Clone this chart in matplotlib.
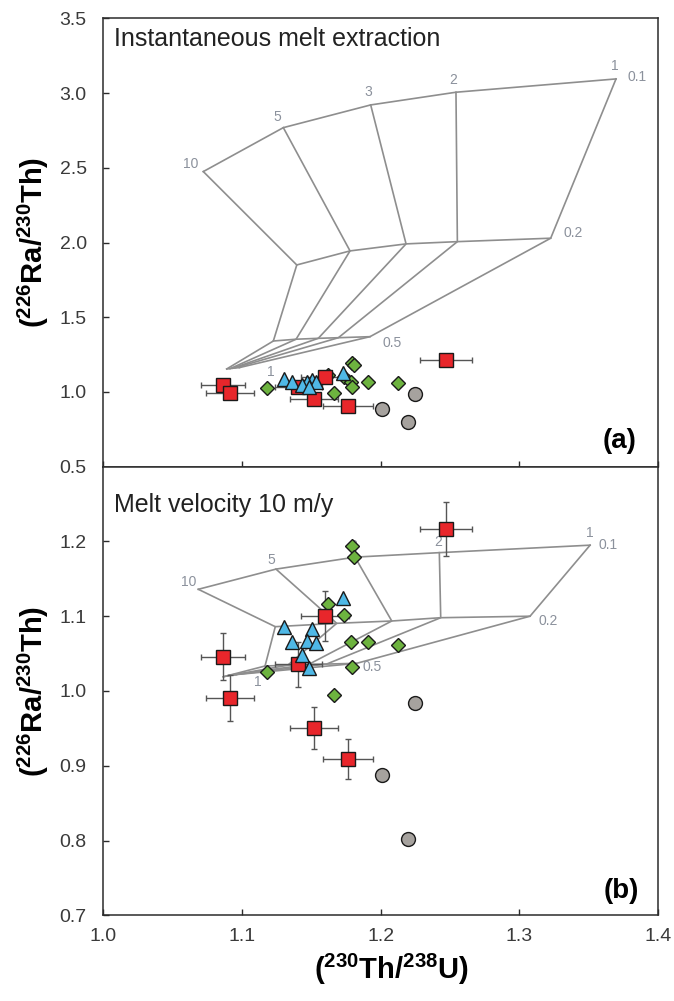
import matplotlib
matplotlib.use('Agg')
import matplotlib.pyplot as plt
import numpy as np

plt.rcParams['font.family'] = ['Liberation Sans', 'DejaVu Sans']
plt.rcParams['mathtext.fontset'] = 'custom'
plt.rcParams['mathtext.rm'] = 'Liberation Sans'
plt.rcParams['mathtext.bf'] = 'Liberation Sans:bold'

# model grid: columns labelled 10, 5, 3, 2, 1 ; rows labelled 0.1, 0.2, 0.5, 1
COL_LABELS = ['10', '5', '3', '2', '1']
ROW_LABELS = ['0.1', '0.2', '0.5', '1']

# instantaneous melt extraction model
inst_th = [[1.0721, 1.1298, 1.1928, 1.2543, 1.3697],
           [1.1395, 1.1779, 1.2183, 1.2553, 1.3226],
           [1.1226, 1.1390, 1.1550, 1.1695, 1.1923],
           [1.0890, 1.0914, 1.0933, 1.0950, 1.0981]]
inst_ra = [[2.475, 2.769, 2.921, 3.006, 3.095],
           [1.850, 1.944, 1.991, 2.006, 2.029],
           [1.341, 1.353, 1.359, 1.363, 1.370],
           [1.154, 1.156, 1.159, 1.161, 1.163]]

# melt velocity 10 m/y model
vel_th = [[1.0685, 1.1245, 1.1815, 1.2423, 1.3510],
          [1.1240, 1.1683, 1.2080, 1.2433, 1.3077],
          [1.1166, 1.1330, 1.1480, 1.1610, 1.1827],
          [1.0865, 1.0890, 1.0910, 1.0930, 1.0960]]
vel_ra = [[1.136, 1.163, 1.179, 1.185, 1.195],
          [1.086, 1.0905, 1.0936, 1.098, 1.100],
          [1.0334, 1.0345, 1.0355, 1.036, 1.037],
          [1.019, 1.020, 1.021, 1.0215, 1.022]]

# samples
sq_th = [1.2471, 1.1599, 1.0861, 1.1406, 1.0914, 1.1519, 1.1762]
sq_ra = [1.2167, 1.1003, 1.0459, 1.0357, 0.9902, 0.9501, 0.9090]
sq_th_err = [0.019, 0.017, 0.016, 0.017, 0.017, 0.017, 0.018]
sq_ra_err = [0.036, 0.033, 0.031, 0.030, 0.031, 0.028, 0.027]

di_th = [1.1791, 1.1808, 1.1618, 1.1736, 1.1786, 1.1907, 1.2127, 1.1791, 1.1178, 1.1666]
di_ra = [1.1939, 1.1788, 1.1163, 1.1016, 1.0651, 1.0659, 1.0615, 1.0325, 1.0258, 0.9946]

tr_th = [1.1731, 1.1305, 1.1507, 1.1358, 1.1467, 1.1532, 1.1431, 1.1486]
tr_ra = [1.1240, 1.0852, 1.0825, 1.0651, 1.0669, 1.0638, 1.0481, 1.0304]

ci_th = [1.2248, 1.2012, 1.2195]
ci_ra = [0.9843, 0.8876, 0.8016]

GRID_COLOR = '#8e8e8e'
LABEL_COLOR = '#8b919c'


def DrawGrid(ax, th, ra, offsets):
    th = np.array(th)
    ra = np.array(ra)
    for i in range(th.shape[0]):
        ax.plot(th[i], ra[i], color=GRID_COLOR, lw=1.2, zorder=1)
    for j in range(th.shape[1]):
        ax.plot(th[:, j], ra[:, j], color=GRID_COLOR, lw=1.2, zorder=1)
    # column labels along the first row, row labels at the right end
    for j, lab in enumerate(COL_LABELS):
        if lab in offsets:
            ax.annotate(lab, (th[0, j], ra[0, j]), xytext=offsets[lab],
                        textcoords='offset points', ha='center', va='center',
                        fontsize=10, color=LABEL_COLOR, zorder=1)
    for i, lab in enumerate(ROW_LABELS):
        key = 'r' + lab
        if key in offsets:
            k = 0 if lab == '1' else -1
            ax.annotate(lab, (th[i, k], ra[i, k]), xytext=offsets[key],
                        textcoords='offset points', ha='center', va='center',
                        fontsize=10, color=LABEL_COLOR, zorder=1)


def DrawSamples(ax, yerr=True):
    ax.errorbar(sq_th, sq_ra, xerr=sq_th_err, yerr=sq_ra_err if yerr else None,
                fmt='none', ecolor='#555555', elinewidth=1, capsize=2.5,
                capthick=1, zorder=2)
    ax.plot(di_th, di_ra, 'D', ms=7, mfc='#6db33f', mec='#1a1a1a', mew=1, zorder=3)
    ax.plot(sq_th, sq_ra, 's', ms=10.5, mfc='#e8262b', mec='#1a1a1a', mew=1, zorder=4)
    ax.plot(tr_th, tr_ra, '^', ms=10, mfc='#4fb8e6', mec='#1a1a1a', mew=1, zorder=5)
    ax.plot(ci_th, ci_ra, 'o', ms=10, mfc='#a6a29e', mec='#1a1a1a', mew=1, zorder=5)


def Style(ax):
    for s in ax.spines.values():
        s.set_color('#2b2b2b')
        s.set_linewidth(1.1)
    ax.tick_params(direction='in', length=4, width=1, color='#2b2b2b',
                   labelsize=14, labelcolor='#3a3a3a', top=False, right=False)
    ax.tick_params(axis='y', pad=12)
    ax.set_xlim(1.0, 1.4)
    ax.set_xticks([1.0, 1.1, 1.2, 1.3, 1.4])


fig = plt.figure(figsize=(6.74, 10.01), dpi=100)
left, width = 0.1533, 0.823
ax1 = fig.add_axes([left, 0.5338, width, 0.4478])
ax2 = fig.add_axes([left, 0.0856, width, 0.4482])

ylab = r'$\mathbf{(^{226}Ra/^{230}Th)}$'
xlab = r'$\mathbf{(^{230}Th/^{238}U)}$'

# (a) instantaneous melt extraction
Style(ax1)
DrawGrid(ax1, inst_th, inst_ra,
         {'10': (-9, 5.5), '5': (-4, 7.5), '3': (-2, 9), '2': (-2, 9),
          '1': (-1, 9), 'r0.1': (15, 1.5), 'r0.2': (16, 4), 'r0.5': (16, -4.5),
          'r1': (32, -2)})
DrawSamples(ax1, yerr=False)
ax1.set_ylim(0.5, 3.5)
ax1.set_yticks(np.arange(0.5, 3.51, 0.5))
ax1.yaxis.set_major_formatter(matplotlib.ticker.FormatStrFormatter('%.1f'))
ax1.tick_params(axis='x', labelbottom=False)
ax1.text(0.019, 0.955, 'Instantaneous melt extraction', transform=ax1.transAxes,
         fontsize=18, va='center', ha='left', color='#222222')
ax1.text(0.93, 0.058, '(a)', transform=ax1.transAxes, fontsize=20,
         fontweight='bold', ha='center', va='center')
ax1.set_ylabel(ylab, fontsize=21, labelpad=6)

# (b) melt velocity 10 m/y
Style(ax2)
DrawGrid(ax2, vel_th, vel_ra,
         {'10': (-7, 5), '5': (-3.5, 6.5), '3': (-1, 8), '2': (-1, 8),
          '1': (0, 8.5), 'r0.1': (13, 0), 'r0.2': (13, -3.5), 'r0.5': (11, -2.5),
          'r1': (25, -3.5)})
DrawSamples(ax2)
ax2.set_ylim(0.7, 1.3)
ax2.set_yticks(np.arange(0.7, 1.21, 0.1))
ax2.yaxis.set_major_formatter(matplotlib.ticker.FormatStrFormatter('%.1f'))
ax2.xaxis.set_major_formatter(matplotlib.ticker.FormatStrFormatter('%.1f'))
ax2.tick_params(axis='x', pad=9)
ax2.text(0.019, 0.915, 'Melt velocity 10 m/y', transform=ax2.transAxes,
         fontsize=18, va='center', ha='left', color='#222222')
ax2.text(0.933, 0.055, '(b)', transform=ax2.transAxes, fontsize=20,
         fontweight='bold', ha='center', va='center')
ax2.set_ylabel(ylab, fontsize=21, labelpad=6)
ax2.set_xlabel(xlab, fontsize=21)
ax2.xaxis.set_label_coords(0.52, -0.082)

fig.savefig('out.png', dpi=100)
